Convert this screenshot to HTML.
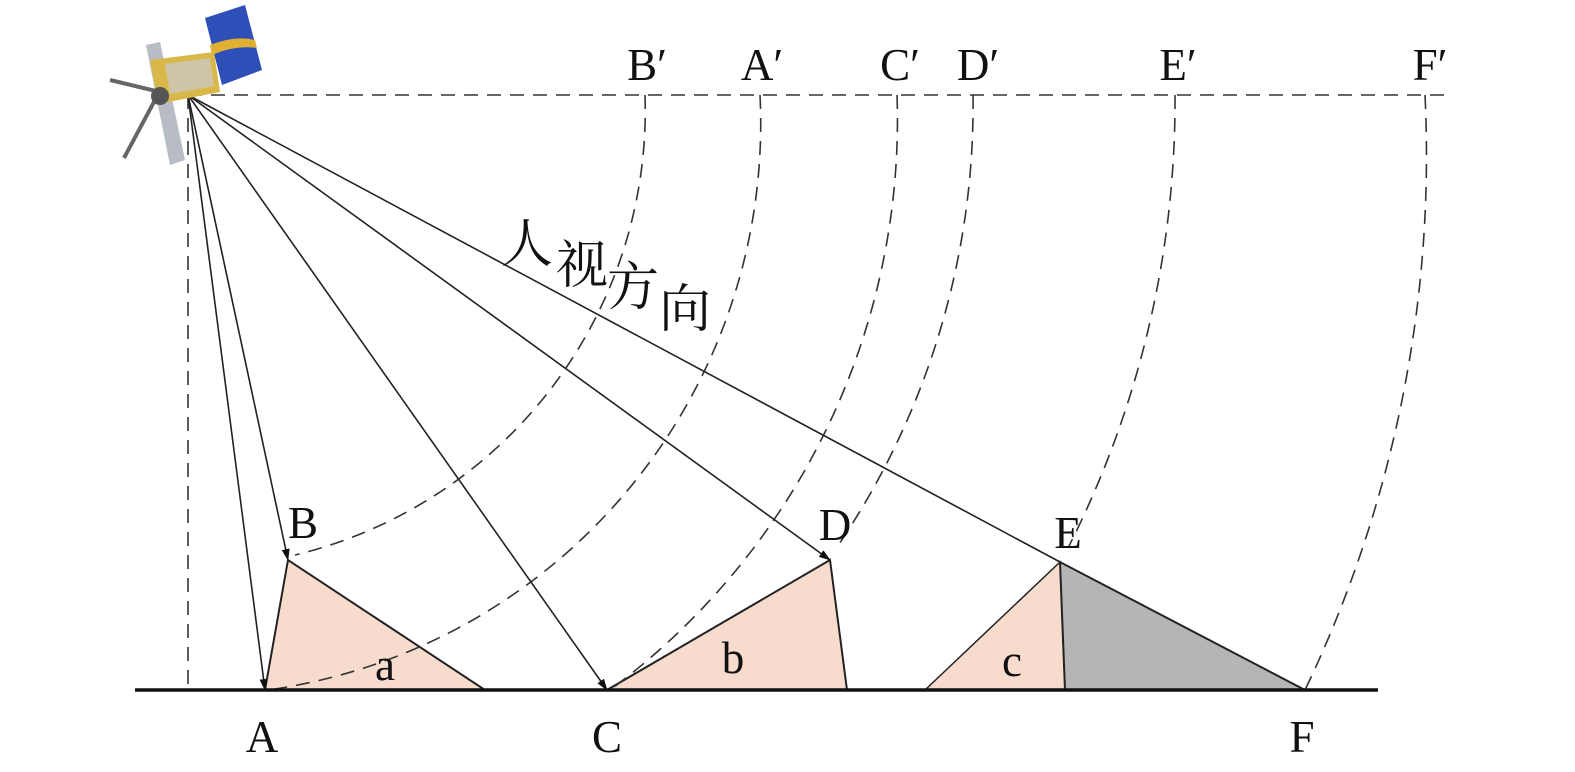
<!DOCTYPE html>
<html><head><meta charset="utf-8"><style>
html,body{margin:0;padding:0;background:#fff;}
svg{display:block;}
text{font-family:"Liberation Serif","Noto Serif CJK SC",serif;fill:#111;}
</style></head><body>
<svg width="1575" height="772" viewBox="0 0 1575 772" xmlns="http://www.w3.org/2000/svg">
<defs>
<marker id="ar" markerWidth="12" markerHeight="12" refX="11" refY="4" orient="auto" markerUnits="userSpaceOnUse">
<path d="M0,0 L12,4 L0,8 Z" fill="#111"/>
</marker>
</defs>
<polygon points="288,560 265,690 485,690" fill="#f7dccd" stroke="#222" stroke-width="2"/>
<polygon points="607,690 830,560 847,690" fill="#f7dccd" stroke="#222" stroke-width="2"/>
<polygon points="925,690 1060,562 1065,690" fill="#f7dccd" stroke="#222" stroke-width="1.5"/>
<polygon points="1060,562 1065,690 1305,690" fill="#b5b4b6" stroke="#222" stroke-width="2"/>
<g fill="none" stroke="#333" stroke-width="1.6" stroke-dasharray="14,9">
<line x1="188" y1="95" x2="1445" y2="95"/>
<line x1="188" y1="95" x2="188" y2="690"/>
<path d="M645,95 A457,457 0 0 1 295,555"/>
<path d="M760,95 A572,572 0 0 1 268,690"/>
<path d="M897,95 A709,709 0 0 1 610,690"/>
<path d="M973,95 A785,785 0 0 1 835,550"/>
<path d="M1175,95 A987,987 0 0 1 1068,548"/>
<path d="M1425,95 A1237,1237 0 0 1 1305,690"/>
</g>
<line x1="135" y1="690" x2="1378" y2="690" stroke="#111" stroke-width="3.5"/>
<g stroke="#222" stroke-width="1.6" marker-end="url(#ar)">
<line x1="188" y1="95" x2="265" y2="690"/>
<line x1="188" y1="95" x2="288" y2="560"/>
<line x1="188" y1="95" x2="607" y2="690"/>
<line x1="188" y1="95" x2="830" y2="560"/>
</g>
<line x1="188" y1="95" x2="1060" y2="562" stroke="#222" stroke-width="1.6"/>
<g>
<polygon points="205,18 245,5 262,70 222,85" fill="#2f4fb8"/>
<path d="M210,45 Q235,35 255,40 L257,48 Q235,45 212,55 Z" fill="#e0b030"/>
<polygon points="146,45 160,42 185,160 170,165" fill="#b8bcc4"/>
<polygon points="150,60 214,52 220,92 158,104" fill="#d9b84a"/>
<polygon points="165,64 210,58 214,86 170,94" fill="#c9cbd0" opacity="0.7"/>
<line x1="110" y1="80" x2="160" y2="92" stroke="#666" stroke-width="4"/>
<line x1="155" y1="100" x2="124" y2="158" stroke="#666" stroke-width="4"/>
<circle cx="160" cy="96" r="9" fill="#555"/>
</g>
<g font-size="45" text-anchor="middle">
<text x="647" y="80">B′</text>
<text x="762" y="80">A′</text>
<text x="900" y="80">C′</text>
<text x="978" y="80">D′</text>
<text x="1178" y="80">E′</text>
<text x="1430" y="80">F′</text>
<text x="262" y="752">A</text>
<text x="607" y="752">C</text>
<text x="1302" y="752">F</text>
<text x="303" y="538">B</text>
<text x="835" y="540">D</text>
<text x="1068" y="548">E</text>
<text x="385" y="680">a</text>
<text x="733" y="673">b</text>
<text x="1012" y="676">c</text>
</g>
<g font-size="52" text-anchor="middle">
<text x="527" y="262">人</text>
<text x="582" y="283">视</text>
<text x="633" y="305">方</text>
<text x="685" y="327">向</text>
</g>
</svg>
</body></html>
